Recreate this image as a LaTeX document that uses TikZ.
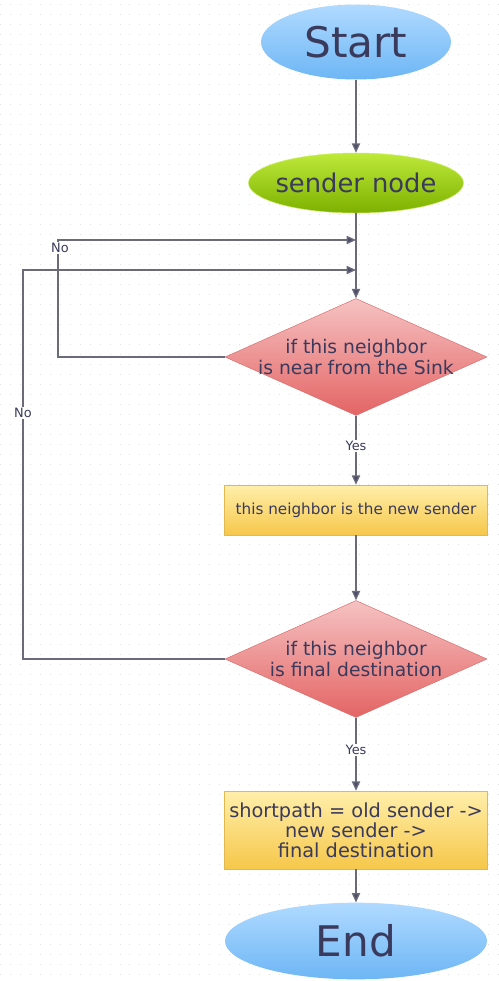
\documentclass[tikz,border=0pt]{standalone}
\usepackage{fontspec}
\setmainfont{DejaVu Sans}
\usetikzlibrary{shapes.geometric,arrows.meta}
\definecolor{ink}{HTML}{3A3A5C}
\definecolor{wire}{HTML}{6A6A78}
\definecolor{skyT}{HTML}{B0DAFF}
\definecolor{skyB}{HTML}{6DB6F5}
\definecolor{limeT}{HTML}{BEEA3A}
\definecolor{limeB}{HTML}{7DB000}
\definecolor{roseT}{HTML}{F6C2C2}
\definecolor{roseB}{HTML}{E46464}
\definecolor{roseE}{HTML}{D86C6C}
\definecolor{sandT}{HTML}{FFEFAA}
\definecolor{sandB}{HTML}{F6C74A}
\definecolor{sandE}{HTML}{E2B94E}

\begin{document}
\begin{tikzpicture}[x=0.03cm,y=-0.03cm,
    every node/.style={text=ink},
    term/.style={ellipse, top color=skyT, bottom color=skyB, inner sep=0pt,
        font=\fontsize{36}{36}\selectfont},
    test/.style={diamond, aspect=2.24, draw=roseE, top color=roseT, bottom color=roseB,
        minimum width=7.86cm, minimum height=3.51cm, inner xsep=-14pt, inner ysep=0pt,
        align=center, font=\fontsize{16}{18}\selectfont},
    job/.style={rectangle, draw=sandE, top color=sandT, bottom color=sandB,
        minimum width=7.89cm, inner sep=0pt, align=center},
    tag/.style={fill=white, inner sep=1pt, font=\fontsize{11}{11}\selectfont},
    flow/.style={draw=wire, line width=1.1pt, -{Triangle[length=8pt,width=7pt,fill=ink!90]}},
    dots/.style={gray!25, line width=0.7pt, dash pattern=on 0.7pt off 7.8pt}]
    \useasboundingbox (0,0) rectangle (498,981);
    \fill[white] (0,0) rectangle (498,981);
    \foreach \y in {4,14,...,974}
        \draw[dots] (0,\y) -- (498,\y);

    \node[term, minimum width=5.7cm, minimum height=2.25cm] (start) at (356,42) {Start};
    \node[ellipse, draw=limeT!80!white, top color=limeT, bottom color=limeB,
        minimum width=6.45cm, minimum height=1.8cm, inner xsep=-8pt, inner ysep=0pt,
        font=\fontsize{22}{22}\selectfont] (sender) at (356,183) {sender node};
    \node[test] (near) at (356,357) {if this neighbor\\is near from the Sink};
    \node[job, minimum height=1.5cm, font=\fontsize{13}{13}\selectfont] (newsend) at (356,510)
        {this neighbor is the new sender};
    \node[test] (final) at (356,659) {if this neighbor\\is final destination};
    \node[job, minimum height=2.34cm, font=\fontsize{16.5}{17}\selectfont] (path) at (356,830)
        {shortpath = old sender ->\\new sender ->\\final destination};
    \node[term, minimum width=7.86cm, minimum height=2.3cm] (stop) at (356,941) {End};

    \coordinate (m1) at (356,240);
    \coordinate (m2) at (356,270);

    \draw[flow] (start) -- (sender);
    \draw[flow] (sender) -- (near);
    \draw[flow] (near) -- (newsend);
    \draw[flow] (newsend) -- (final);
    \draw[flow] (final) -- (path);
    \draw[flow] (path) -- (stop);
    \draw[flow] (near.west) -| (58,240) -- (m1);
    \draw[flow] (final.west) -| (23,270) -- (m2);

    \node[tag] (no1) at (60,248) {No};
    \node[tag] (no2) at (23,413) {No};
    \node[tag] (yes1) at (356,446) {Yes};
    \node[tag] (yes2) at (356,750) {Yes};
\end{tikzpicture}
\end{document}
